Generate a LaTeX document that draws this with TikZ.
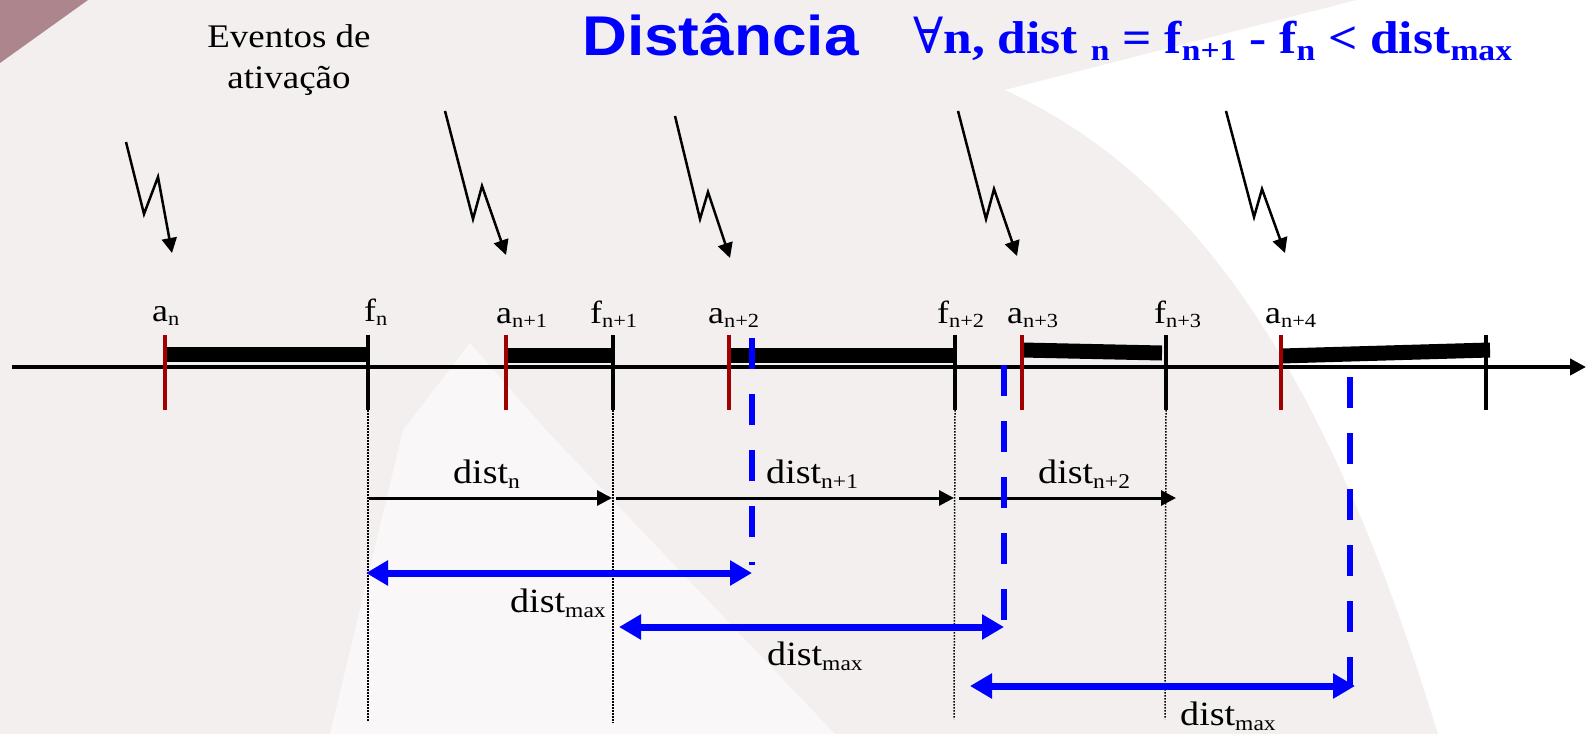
\documentclass[tikz,border=0pt]{standalone}
\usepackage{fontspec}
\setmainfont{Liberation Serif}[FakeStretch=1.12]
\newfontfamily\titlesans{Liberation Sans}[FakeStretch=1.11]
\newfontfamily\symfont{DejaVu Serif}
\usetikzlibrary{arrows.meta}
\definecolor{tickred}{RGB}{160,0,0}
\definecolor{bgray}{RGB}{243,239,239}
\definecolor{bglight}{RGB}{249,247,247}
\definecolor{cornerc}{RGB}{172,134,140}
\definecolor{pblue}{RGB}{0,0,255}
\newcommand{\lsub}[1]{\raisebox{-4pt}{\fontsize{20}{20}\selectfont #1}}
\newcommand{\dsub}[1]{\raisebox{-5pt}{\fontsize{21}{21}\selectfont #1}}
\newcommand{\tsub}[1]{\raisebox{-7pt}{\fontsize{30}{30}\selectfont\bfseries #1}}
\tikzset{
  axlabel/.style={anchor=base west, inner sep=0pt, font=\fontsize{32}{32}\selectfont},
  dlabel/.style={anchor=base west, inner sep=0pt, font=\fontsize{34}{34}\selectfont},
  redtick/.style={draw=tickred, line width=4pt},
  blacktick/.style={draw=black, line width=4pt},
  actbar/.style={draw=black, line width=15pt},
  axisline/.style={draw=black, line width=4pt, -{Triangle[length=16pt,width=16pt]}},
  distarrow/.style={draw=black, line width=3pt, -{Triangle[length=15pt,width=15pt]}},
  maxarrow/.style={draw=pblue, line width=7pt, {Triangle[length=22pt,width=24pt]}-{Triangle[length=22pt,width=24pt]}},
  limitline/.style={draw=pblue, line width=6pt, dash pattern=on 31pt off 25pt},
  guide/.style={draw=black, line width=1.5pt, dash pattern=on 1.5pt off 1.5pt},
  bolt/.style={draw=black, line width=2.5pt, line join=miter, -{Triangle[length=15pt,width=15pt]}}
}
\begin{document}
\begin{tikzpicture}[x=1pt,y=-1pt]
\useasboundingbox (0,0) rectangle (1586,734);
% background
\fill[bgray] (0,0) rectangle (1586,734);
\fill[bglight] (470,343) -- (546,430) -- (835,734) -- (330,734) -- (403,430) -- cycle;
\fill[white] (1005,90) -- (1357,0) -- (1586,0) -- (1586,734) -- (1438,734)
  .. controls (1330,380) and (1200,180) .. (1005,90) -- cycle;
\fill[cornerc] (0,0) -- (88,0) -- (0,63) -- cycle;

% title
\node[anchor=base west, inner sep=0pt, text=pblue, font=\titlesans\bfseries\fontsize{56}{56}\selectfont] (title) at (582,55) {Distância};
\node[anchor=base west, inner sep=0pt, text=pblue, font=\bfseries\fontsize{46}{46}\selectfont] (formula) at (913,53)
  {{\symfont\mdseries\fontsize{50}{50}\selectfont ∀}n, dist \tsub{n} = f\tsub{n+1} - f\tsub{n} < dist\tsub{max}};

% Eventos de ativacao
\node[anchor=base, inner sep=0pt, font=\fontsize{33}{33}\selectfont] (ev1) at (289,47) {Eventos de};
\node[anchor=base, inner sep=0pt, font=\fontsize{33}{33}\selectfont] (ev2) at (289,88) {ativação};

% axis
\coordinate (axstart) at (12,367);
\coordinate (axend) at (1586,367);
\draw[axisline] (axstart) -- (axend);

% tick coordinates (top and bottom)
\foreach \nm/\x in {an/165, fn/368, an1/506, fn1/613, an2/729, fn2/955, an3/1022, fn3/1166, an4/1281, fe/1486}{
  \coordinate (\nm t) at (\x,335);
  \coordinate (\nm b) at (\x,410);
}
% activity bars
\coordinate (bar0a) at (165,354.5); \coordinate (bar0b) at (368,354.5);
\coordinate (bar1a) at (506,355);   \coordinate (bar1b) at (611,355);
\coordinate (bar2a) at (729,355);   \coordinate (bar2b) at (953,355);
\coordinate (bar3a) at (1022,350);  \coordinate (bar3b) at (1162,353);
\coordinate (bar4a) at (1281,356);  \coordinate (bar4b) at (1490,350);
\draw[actbar] (bar0a) -- (bar0b);
\draw[actbar] (bar1a) -- (bar1b);
\draw[actbar] (bar2a) -- (bar2b);
\draw[actbar] (bar3a) -- (bar3b);
\draw[actbar] (bar4a) -- (bar4b);

% ticks
\draw[redtick] (ant) -- (anb);
\draw[redtick] (an1t) -- (an1b);
\draw[redtick] (an2t) -- (an2b);
\draw[redtick] (an3t) -- (an3b);
\draw[redtick] (an4t) -- (an4b);
\draw[blacktick] (fnt) -- (fnb);
\draw[blacktick] (fn1t) -- (fn1b);
\draw[blacktick] (fn2t) -- (fn2b);
\draw[blacktick] (fn3t) -- (fn3b);
\draw[blacktick] (fet) -- (feb);

% tick labels
\node[axlabel] (lan)  at (152,321)  {a\lsub{n}};
\node[axlabel] (lfn)  at (364,321)  {f\lsub{n}};
\node[axlabel] (lan1) at (496,323)  {a\lsub{n+1}};
\node[axlabel] (lfn1) at (590,323)  {f\lsub{n+1}};
\node[axlabel] (lan2) at (708,323)  {a\lsub{n+2}};
\node[axlabel] (lfn2) at (937,323)  {f\lsub{n+2}};
\node[axlabel] (lan3) at (1007,323) {a\lsub{n+3}};
\node[axlabel] (lfn3) at (1154,323) {f\lsub{n+3}};
\node[axlabel] (lan4) at (1265,323) {a\lsub{n+4}};

% guide lines below f ticks
\coordinate (g0) at (368,721);
\coordinate (g1) at (613,723);
\coordinate (g2) at (954,719);
\coordinate (g3) at (1165,719);
\draw[guide] (fnb) -- (g0);
\draw[guide] (fn1b) -- (g1);
\draw[guide] (fn2b) -- (g2);
\draw[guide] (fn3b) -- (g3);

% dist arrows
\coordinate (d0a) at (369,498); \coordinate (d0b) at (612,498);
\coordinate (d1a) at (616,498); \coordinate (d1b) at (954,498);
\coordinate (d2a) at (959,498); \coordinate (d2b) at (1176,498);
\draw[distarrow] (d0a) -- (d0b);
\draw[distarrow] (d1a) -- (d1b);
\draw[distarrow] (d2a) -- (d2b);
\node[dlabel] (ld0) at (453,483)  {dist\dsub{n}};
\node[dlabel] (ld1) at (766,483)  {dist\dsub{n+1}};
\node[dlabel] (ld2) at (1038,483) {dist\dsub{n+2}};

% dist max limits
\coordinate (l0t) at (752,338);  \coordinate (l0b) at (752,565);
\coordinate (l1t) at (1004,365); \coordinate (l1b) at (1004,621);
\coordinate (l2t) at (1350,377); \coordinate (l2b) at (1350,687);
\draw[limitline] (l0t) -- (l0b);
\draw[limitline] (l1t) -- (l1b);
\draw[limitline] (l2t) -- (l2b);

\coordinate (m0a) at (366,573);  \coordinate (m0b) at (752,573);
\coordinate (m1a) at (619,627);  \coordinate (m1b) at (1004,627);
\coordinate (m2a) at (970,686);  \coordinate (m2b) at (1355,686);
\draw[maxarrow] (m0a) -- (m0b);
\draw[maxarrow] (m1a) -- (m1b);
\draw[maxarrow] (m2a) -- (m2b);
\node[dlabel] (lm0) at (510,612)  {dist\dsub{max}};
\node[dlabel] (lm1) at (767,665)  {dist\dsub{max}};
\node[dlabel] (lm2) at (1180,725) {dist\dsub{max}};

% activation bolts
\coordinate (b1a) at (126,142); \coordinate (b1b) at (144,214); \coordinate (b1c) at (158,177); \coordinate (b1d) at (172,253);
\coordinate (b2a) at (445,111); \coordinate (b2b) at (473,219); \coordinate (b2c) at (482,186); \coordinate (b2d) at (506,255);
\coordinate (b3a) at (675,116); \coordinate (b3b) at (700,219); \coordinate (b3c) at (708,192); \coordinate (b3d) at (730,258);
\coordinate (b4a) at (958,111); \coordinate (b4b) at (986,219); \coordinate (b4c) at (994,189); \coordinate (b4d) at (1017,256);
\coordinate (b5a) at (1226,111); \coordinate (b5b) at (1254,217); \coordinate (b5c) at (1262,189); \coordinate (b5d) at (1285,253);
\draw[bolt] (b1a) -- (b1b) -- (b1c) -- (b1d);
\draw[bolt] (b2a) -- (b2b) -- (b2c) -- (b2d);
\draw[bolt] (b3a) -- (b3b) -- (b3c) -- (b3d);
\draw[bolt] (b4a) -- (b4b) -- (b4c) -- (b4d);
\draw[bolt] (b5a) -- (b5b) -- (b5c) -- (b5d);
\end{tikzpicture}
\end{document}
